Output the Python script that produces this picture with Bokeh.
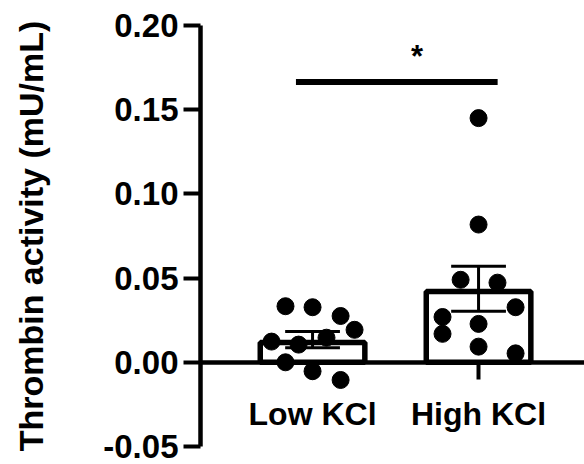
import numpy as np
from bokeh.plotting import figure
from bokeh.models import FixedTicker, NumeralTickFormatter, Range1d
from bokeh.core.properties import value
from bokeh.embed import file_html
from bokeh.resources import INLINE

# ---- data ----
categories = ["Low KCl", "High KCl"]
low_kcl = [0.0333, 0.0327, 0.0275, 0.0193, 0.0146, 0.0123, 0.0105, 0.0000, -0.0053, -0.0105]
low_jitter = [-0.163, 0.0, 0.169, 0.253, 0.084, -0.247, -0.084, -0.163, 0.0, 0.169]
high_kcl = [0.145, 0.0818, 0.049, 0.0473, 0.0327, 0.0269, 0.0228, 0.0169, 0.0093, 0.0053]
high_jitter = [0.0, 0.0, -0.108, 0.114, 0.223, -0.217, 0.0, -0.217, 0.0, 0.223]
y_ticks = [-0.05, 0.0, 0.05, 0.10, 0.15, 0.20]
sig_label = "*"
sig_level = 0.1665
y_label = "Thrombin activity (mU/mL)"

FONT = "Liberation Sans"
groups = [low_kcl, high_kcl]
jitters = [low_jitter, high_jitter]
xpos = [1, 2]

W, H = 584, 464
left, top, bottom = 200, 25, 18
frame_h = H - top - bottom
px_per_unit = frame_h / (y_ticks[-1] - y_ticks[0])

p = figure(width=W, height=H, output_backend="svg", toolbar_location=None,
           x_range=Range1d(0.325, 0.325 + (W - left) / 166.0),
           y_range=Range1d(y_ticks[0], y_ticks[-1]),
           min_border_left=left, min_border_top=top, min_border_bottom=bottom,
           min_border_right=0)
p.outline_line_color = None
p.xgrid.visible = False
p.ygrid.visible = False
p.background_fill_color = "white"
p.border_fill_color = "white"

means = [float(np.mean(g)) for g in groups]
sems = [float(np.std(g, ddof=1) / np.sqrt(len(g))) for g in groups]

bar_lw = 5.5
tops = [m - (bar_lw / 2) / px_per_unit for m in means]
p.vbar(x=xpos, top=tops, bottom=0, width=0.63, fill_color="white",
       line_color="black", line_width=bar_lw)

for x, g, j in zip(xpos, groups, jitters):
    p.scatter(x=[x + d for d in j], y=g, size=17, marker="circle",
              fill_color="black", line_color="black")

lo = [m - s for m, s in zip(means, sems)]
hi = [m + s for m, s in zip(means, sems)]
p.segment(x0=xpos, x1=xpos, y0=lo, y1=hi, line_color="black", line_width=3)
cap = 0.165
p.segment(x0=[x - cap for x in xpos], x1=[x + cap for x in xpos], y0=hi, y1=hi,
          line_color="black", line_width=3)
p.segment(x0=[x - cap for x in xpos], x1=[x + cap for x in xpos], y0=lo, y1=lo,
          line_color="black", line_width=3)

# significance bar
p.segment(x0=[xpos[0] - 0.1], x1=[xpos[1] + 0.115], y0=[sig_level], y1=[sig_level],
          line_color="black", line_width=6, line_cap="butt")
p.text(x=[1.63], y=[sig_level + 0.0152], text=[sig_label], text_font=value(FONT),
       text_font_size="31px", text_font_style="bold", text_align="center",
       text_baseline="alphabetic", text_color="black")

# x axis at y = 0
xa = p.xaxis[0]
xa.fixed_location = 0
xa.ticker = FixedTicker(ticks=xpos)
xa.major_label_overrides = {x: c for x, c in zip(xpos, categories)}
xa.axis_line_width = 4.5
xa.major_tick_line_width = 4
xa.major_tick_out = 17
xa.major_tick_in = 0
xa.minor_tick_line_color = None
xa.major_label_standoff = 17
xa.major_label_text_font = FONT
xa.major_label_text_font_size = "32px"
xa.major_label_text_font_style = "bold"
xa.major_label_text_color = "black"

ya = p.yaxis[0]
ya.ticker = FixedTicker(ticks=y_ticks)
ya.formatter = NumeralTickFormatter(format="0.00")
ya.axis_line_width = 4.5
ya.major_tick_line_width = 4
ya.major_tick_out = 17
ya.major_tick_in = 0
ya.minor_tick_line_color = None
ya.major_label_standoff = 5
ya.major_label_text_font = FONT
ya.major_label_text_font_size = "33px"
ya.major_label_text_font_style = "bold"
ya.major_label_text_color = "black"
ya.axis_label = y_label
ya.axis_label_text_font = FONT
ya.axis_label_text_font_size = "34px"
ya.axis_label_text_font_style = "bold"
ya.axis_label_text_color = "black"
ya.axis_label_standoff = 50

open("out.html", "w").write(file_html(p, INLINE))
